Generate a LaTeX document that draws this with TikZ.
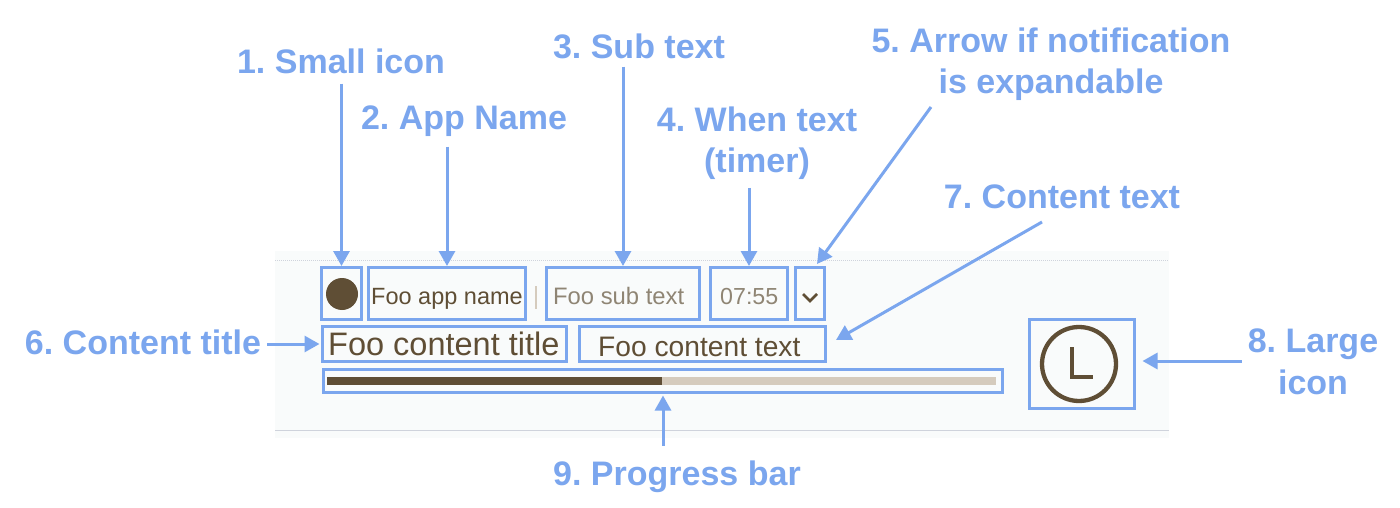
\documentclass[tikz,border=0pt]{standalone}
\usepackage{fontspec}
\setmainfont{Liberation Sans}
\usepackage{tikz}
\usetikzlibrary{arrows.meta}
\definecolor{callblue}{HTML}{7BA6EE}
\definecolor{appbrown}{HTML}{5F4E35}
\definecolor{appgrey}{HTML}{8F8574}
\definecolor{barlight}{HTML}{D5CBBD}
\definecolor{panelbg}{HTML}{F9FBFB}
\definecolor{panelline}{HTML}{CFD3DC}
\frenchspacing
\tikzset{
  calllabel/.style={text=callblue, align=center, inner sep=0pt, font=\bfseries\fontsize{34}{41.5}\selectfont},
  callbox/.style={draw=callblue, line width=3.3pt, inner sep=0pt, outer sep=0pt, anchor=north west},
  callarrow/.style={draw=callblue, line width=3pt, -{Triangle[length=15pt,width=16pt]}, shorten >=1.5pt},
  apptext/.style={inner sep=0pt, anchor=base west}
}
\begin{document}
\begin{tikzpicture}[x=1pt,y=-1pt]
\useasboundingbox (0,0) rectangle (1400,508);
\fill[white] (0,0) rectangle (1400,508);
\fill[panelbg] (275,251) rectangle (1169,438);
\draw[panelline, line width=1pt, densely dotted] (275,260) -- (1169,260);
\draw[panelline, line width=1pt] (275,430) -- (1169,430);

\fill[appbrown] (342,294) circle (16);
\draw[barlight, line width=2pt] (536,286) -- (536,309);
\fill[barlight] (327,377) rectangle (996,385);
\fill[appbrown] (327,377) rectangle (662,385);
\draw[appbrown, line width=2.5pt] (803,294) -- (810,301) -- (817,294);
\draw[appbrown, line width=4.3pt] (1079,364) circle (37);
\draw[appbrown, line width=4.3pt] (1072,347) -- (1072,377) -- (1093,377);

\node[apptext, text=appbrown, font=\fontsize{23.5}{28}\selectfont] (appname) at (371,304) {Foo app name};
\node[apptext, text=appgrey, font=\fontsize{23.8}{28}\selectfont] (subname) at (553,304) {Foo sub text};
\node[apptext, text=appgrey, font=\fontsize{23.2}{28}\selectfont] (whenname) at (720,304) {07:55};
\node[apptext, text=appbrown, font=\fontsize{32.5}{38}\selectfont] (titlename) at (328,355) {Foo content title};
\node[apptext, text=appbrown, font=\fontsize{28.2}{34}\selectfont] (textname) at (598,356) {Foo content text};

\node[callbox, minimum width=40pt, minimum height=52pt] (smallbox) at (321.5,267.5) {};
\node[callbox, minimum width=157pt, minimum height=52pt] (appbox) at (368.5,267.5) {};
\node[callbox, minimum width=153pt, minimum height=52pt] (subbox) at (546.5,267.5) {};
\node[callbox, minimum width=77pt, minimum height=52pt] (whenbox) at (710.5,267.5) {};
\node[callbox, minimum width=29pt, minimum height=52pt] (arrowbox) at (795.5,267.5) {};
\node[callbox, minimum width=244pt, minimum height=35pt] (titlebox) at (322.5,326.5) {};
\node[callbox, minimum width=246pt, minimum height=35pt] (textbox) at (579.5,326.5) {};
\node[callbox, minimum width=679pt, minimum height=23pt] (barbox) at (323.5,369.5) {};
\node[callbox, minimum width=105pt, minimum height=89pt] (largebox) at (1029.5,319.5) {};

\node[calllabel] (smalllabel) at (341,61) {1. Small icon};
\node[calllabel] (applabel) at (464,121) {2. App Name};
\node[calllabel] (sublabel) at (639,46) {3. Sub text};
\node[calllabel] (whenlabel) at (757,143) {4. When text\\(timer)};
\node[calllabel] (arrowlabel) at (1051,64) {5. Arrow if notification\\is expandable};
\node[calllabel] (titlelabel) at (143,342) {6. Content title};
\node[calllabel] (textlabel) at (1062,197) {7. Content text};
\node[calllabel] (largelabel) at (1313,362) {8. Large\\icon};
\node[calllabel] (barlabel) at (677,477) {9. Progress bar};

\coordinate (arrowfrom) at (931,107);
\coordinate (textfrom) at (1042,222);
\coordinate (textto) at (836,340);
\coordinate (arrowto) at (817,264);

\draw[callarrow] (smalllabel.south -| smallbox.north) ++(0,10) -- (smallbox.north);
\draw[callarrow] (applabel.south -| appbox.north) ++(0,10) -- (appbox.north);
\draw[callarrow] (sublabel.south -| subbox.north) ++(0,8) -- (subbox.north);
\draw[callarrow] (whenlabel.south -| whenbox.north) ++(0,8) -- (whenbox.north);
\draw[callarrow, shorten >=0pt] (arrowfrom) -- (arrowto);
\draw[callarrow, shorten >=0pt] (textfrom) -- (textto);
\draw[callarrow, shorten >=3pt] (titlelabel.east |- titlebox.west) ++(6,0) -- (titlebox.west);
\draw[callarrow, shorten >=8pt] (largelabel.west |- 0,361) ++(-6,0) -- (largebox.east |- 0,361);
\draw[callarrow, shorten >=3pt] (barlabel.north -| 663,0) ++(0,-15) -- (barbox.south -| 663,0);
\end{tikzpicture}
\end{document}
